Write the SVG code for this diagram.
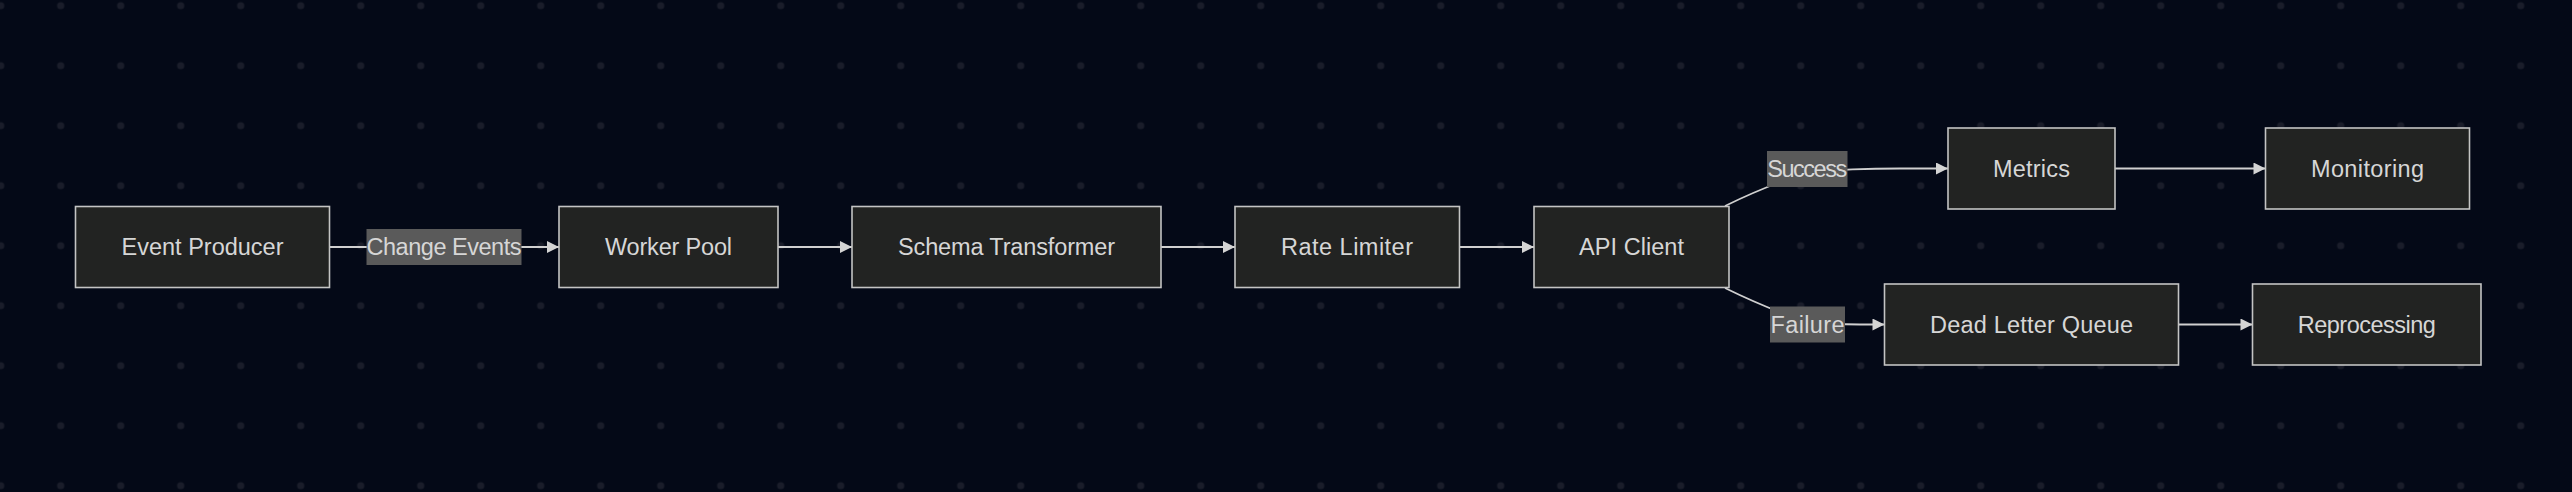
<svg xmlns="http://www.w3.org/2000/svg" width="2572" height="492" viewBox="0 0 2572 492">
<defs>
<pattern id="dots" patternUnits="userSpaceOnUse" x="-29.3" y="-24.3" width="60" height="60">
<circle cx="30" cy="30" r="3.6" fill="#1a1d2a"/>
</pattern>
<marker id="arrow" viewBox="0 0 10 10" refX="10" refY="5" markerWidth="13" markerHeight="12" markerUnits="userSpaceOnUse" orient="auto">
<path d="M0,0 L10,5 L0,10 z" fill="#d4d4d4"/>
</marker>
<style>
.node rect{fill:#222322;stroke:#c4c4c4;stroke-width:1.6}
text{font-family:"Liberation Sans",Arial,sans-serif;font-size:23.5px;fill:#d6d6d6;text-anchor:middle}
.edge{fill:none;stroke:#d0d0d0;stroke-width:1.8;marker-end:url(#arrow)}
.lbl rect{fill:#5a5a5a}
</style>
</defs>
<rect width="2572" height="492" fill="#040917"/>
<rect width="2572" height="492" fill="url(#dots)"/>

<g id="connectors">
<path class="edge" d="M329.5,247 L559,247"/>
<path class="edge" d="M778,247 L852,247"/>
<path class="edge" d="M1161,247 L1235,247"/>
<path class="edge" d="M1459.5,247 L1534,247"/>
<path class="edge" d="M1725,206 Q1770,184 1810,172 Q1850,168.5 1900,168.5 L1948,168.5"/>
<path class="edge" d="M2115,168.5 L2265.5,168.5"/>
<path class="edge" d="M1725,288 Q1770,310 1808,322 Q1830,324.5 1860,324.5 L1884.5,324.5"/>
<path class="edge" d="M2178.5,324.5 L2252.5,324.5"/>
<g class="lbl" id="label-change-events">
<rect x="366.5" y="229" width="155" height="36"/>
<text x="444" y="255" textLength="155">Change Events</text>
</g>
<g class="lbl" id="label-success">
<rect x="1767" y="151" width="80.5" height="36"/>
<text x="1807.2" y="177" textLength="80">Success</text>
</g>
<g class="lbl" id="label-failure">
<rect x="1770" y="306.5" width="75" height="36"/>
<text x="1807.5" y="333" textLength="74">Failure</text>
</g>
</g>

<g id="event-producer" class="node">
<rect x="75.5" y="206.5" width="254" height="81"/>
<text x="202.5" y="255" textLength="162">Event Producer</text>
</g>
<g id="worker-pool" class="node">
<rect x="559" y="206.5" width="219" height="81"/>
<text x="668.5" y="255" textLength="127">Worker Pool</text>
</g>
<g id="schema-transformer" class="node">
<rect x="852" y="206.5" width="309" height="81"/>
<text x="1006.5" y="255" textLength="217">Schema Transformer</text>
</g>
<g id="rate-limiter" class="node">
<rect x="1235" y="206.5" width="224.5" height="81"/>
<text x="1347" y="255" textLength="132">Rate Limiter</text>
</g>
<g id="api-client" class="node">
<rect x="1534" y="206.5" width="195" height="81"/>
<text x="1631.5" y="255" textLength="105">API Client</text>
</g>
<g id="metrics" class="node">
<rect x="1948" y="128" width="167" height="81"/>
<text x="2031.5" y="177" textLength="77">Metrics</text>
</g>
<g id="monitoring" class="node">
<rect x="2265.5" y="128" width="204" height="81"/>
<text x="2367.5" y="177" textLength="113">Monitoring</text>
</g>
<g id="dead-letter-queue" class="node">
<rect x="1884.5" y="284" width="294" height="81"/>
<text x="2031.5" y="333" textLength="203">Dead Letter Queue</text>
</g>
<g id="reprocessing" class="node">
<rect x="2252.5" y="284" width="228.5" height="81"/>
<text x="2366.8" y="333" textLength="138">Reprocessing</text>
</g>
</svg>
